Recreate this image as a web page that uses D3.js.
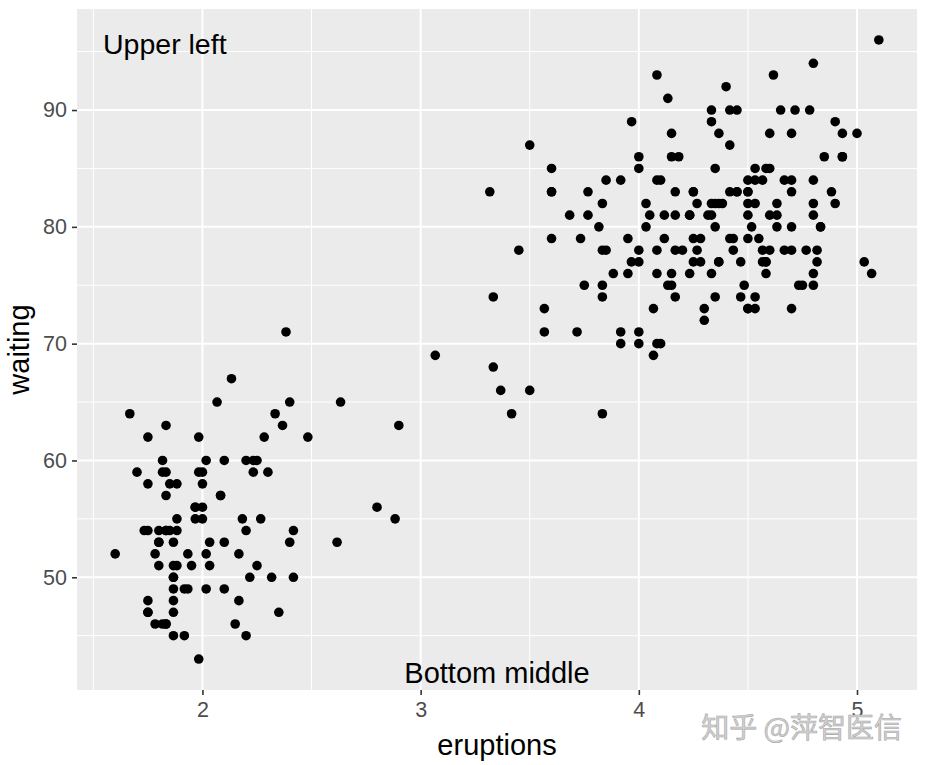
<!DOCTYPE html>
<html><head><meta charset="utf-8">
<script src="https://cdn.jsdelivr.net/npm/d3@7"></script>
<style>body{margin:0;background:#fff}svg{display:block}</style>
</head><body>
<script>
const eruptions = [3.600,1.800,3.333,2.283,4.533,2.883,4.700,3.600,1.950,4.350,1.833,3.917,4.200,1.750,4.700,2.167,1.750,4.800,1.600,4.250,1.800,1.750,3.450,3.067,4.533,3.600,1.967,4.083,3.850,4.433,4.300,4.467,3.367,4.033,3.833,2.017,1.867,4.833,1.833,4.783,4.350,1.883,4.567,1.750,4.533,3.317,3.833,2.100,4.633,2.000,4.800,4.716,1.833,4.833,1.733,4.883,3.717,1.667,4.567,4.317,2.233,4.500,1.750,4.800,1.817,4.400,4.167,4.700,2.067,4.700,4.033,1.967,4.500,4.000,1.983,5.067,2.017,4.567,3.883,3.600,4.133,4.333,4.100,2.633,4.067,4.933,3.950,4.517,2.167,4.000,2.200,4.333,1.867,4.817,1.833,4.300,4.667,3.750,1.867,4.900,2.483,4.367,2.100,4.500,4.050,1.867,4.700,1.783,4.850,3.683,4.733,2.300,4.900,4.417,1.700,4.633,2.317,4.600,1.817,4.417,2.617,4.067,4.250,1.967,4.600,3.767,1.917,4.500,2.267,4.650,1.867,4.167,2.800,4.333,1.833,4.383,1.883,4.933,2.033,3.733,4.233,2.233,4.533,4.817,4.333,1.983,4.633,2.017,5.100,1.800,5.033,4.000,2.400,4.600,3.567,4.000,4.500,4.083,1.800,3.967,2.200,4.150,2.000,3.833,3.500,4.583,2.367,5.000,1.933,4.617,1.917,2.083,4.583,3.333,4.167,4.333,4.500,2.417,4.000,4.167,1.883,4.583,4.250,3.767,2.033,4.433,4.083,1.833,4.417,2.183,4.800,1.833,4.800,4.100,3.966,4.233,3.500,4.366,2.250,4.667,2.100,4.350,4.133,1.867,4.600,1.783,4.367,3.850,1.933,4.500,2.383,4.700,1.867,3.833,3.417,4.233,2.400,4.800,2.000,4.150,1.867,4.267,1.750,4.483,4.000,4.117,4.083,4.267,3.917,4.550,4.083,2.417,4.183,2.217,4.450,1.883,1.850,4.283,3.950,2.333,4.150,2.350,4.933,2.900,4.583,3.833,2.083,4.367,2.133,4.350,2.200,4.450,3.567,4.500,4.150,3.817,3.917,4.450,2.000,4.283,4.767,4.533,1.850,4.250,1.983,2.250,4.750,4.117,2.150,4.417,1.817,4.467];
const waiting = [79,54,74,62,85,55,88,85,51,85,54,84,78,47,83,52,62,84,52,79,51,47,78,69,74,83,55,76,78,79,73,77,66,80,74,52,48,80,59,90,80,58,84,58,73,83,64,53,82,59,75,90,54,80,54,83,71,64,77,81,59,84,48,82,60,92,78,78,65,73,82,56,79,71,62,76,60,78,76,83,75,82,70,65,73,88,76,80,48,86,60,90,50,78,63,72,84,75,51,82,62,88,49,83,81,47,84,52,86,81,75,59,89,79,59,81,50,85,59,87,53,69,77,56,88,81,45,82,55,90,45,83,56,89,46,82,51,86,53,79,81,60,82,77,76,59,80,49,96,53,77,77,65,81,71,70,81,93,53,89,45,86,58,78,66,76,63,88,52,93,49,57,77,68,81,81,73,50,85,74,55,77,83,83,51,78,84,46,83,55,81,57,76,84,77,81,87,77,51,78,60,82,91,53,78,46,77,84,49,83,71,80,49,75,64,76,53,94,55,76,50,82,54,75,78,79,78,78,70,79,70,54,86,50,90,54,54,77,79,64,75,47,86,63,85,82,57,82,67,74,54,83,73,73,88,80,71,83,56,79,78,84,58,83,43,60,75,81,46,90,46,74];
const xTicks = [2,3,4,5];
const yTicks = [50,60,70,80,90];
const xMinor = [1.5,2.5,3.5,4.5];
const yMinor = [45,55,65,75,85,95];
const annotations = [{text:"Upper left", pos:"ul"},{text:"Bottom middle", pos:"bm"}];

const W=926,H=765;
const P={l:77,r:917,t:9,b:690};
const svg=d3.select("body").append("svg").attr("width",W).attr("height",H);
const x=d3.scaleLinear().domain([1.425,5.275]).range([P.l,P.r]);
const y=d3.scaleLinear().domain([40.35,98.65]).range([P.b,P.t]);
const font="Liberation Sans, Arial, sans-serif";

svg.append("rect").attr("x",P.l).attr("y",P.t).attr("width",P.r-P.l).attr("height",P.b-P.t).attr("fill","#ebebeb");
const g=svg.append("g");
g.selectAll(".xm").data(xMinor).join("line").attr("x1",d=>x(d)).attr("x2",d=>x(d)).attr("y1",P.t).attr("y2",P.b).attr("stroke","#fff").attr("stroke-width",1);
g.selectAll(".ym").data(yMinor).join("line").attr("y1",d=>y(d)).attr("y2",d=>y(d)).attr("x1",P.l).attr("x2",P.r).attr("stroke","#fff").attr("stroke-width",1);
g.selectAll(".xM").data(xTicks).join("line").attr("x1",d=>x(d)).attr("x2",d=>x(d)).attr("y1",P.t).attr("y2",P.b).attr("stroke","#fff").attr("stroke-width",2);
g.selectAll(".yM").data(yTicks).join("line").attr("y1",d=>y(d)).attr("y2",d=>y(d)).attr("x1",P.l).attr("x2",P.r).attr("stroke","#fff").attr("stroke-width",2);

// axes
const xa=svg.append("g").attr("transform",`translate(0,${P.b})`).call(d3.axisBottom(x).tickValues(xTicks).tickSize(5).tickPadding(7).tickFormat(d3.format("d")));
const ya=svg.append("g").attr("transform",`translate(${P.l},0)`).call(d3.axisLeft(y).tickValues(yTicks).tickSize(5).tickPadding(5).tickFormat(d3.format("d")));
[xa,ya].forEach(a=>{a.select(".domain").remove();a.selectAll(".tick line").attr("stroke","#333").attr("stroke-width",1.6);a.selectAll(".tick text").attr("fill","#4d4d4d").attr("font-size",21.5).attr("font-family",font);});

// points
svg.append("g").selectAll("circle").data(eruptions.map((e,i)=>[e,waiting[i]])).join("circle")
 .attr("cx",d=>x(d[0])).attr("cy",d=>y(d[1])).attr("r",4.8).attr("fill","#000");

// annotations
svg.append("text").attr("x",103).attr("y",54).attr("font-size",28.5).attr("font-family",font).attr("fill","#000").text(annotations[0].text);
svg.append("text").attr("x",(P.l+P.r)/2).attr("y",683).attr("text-anchor","middle").attr("font-size",29).attr("font-family",font).attr("fill","#000").text(annotations[1].text);

// axis titles
svg.append("text").attr("x",(P.l+P.r)/2).attr("y",755).attr("text-anchor","middle").attr("font-size",29).attr("font-family",font).text("eruptions");
svg.append("text").attr("transform",`translate(29,${(P.t+P.b)/2}) rotate(-90)`).attr("text-anchor","middle").attr("font-size",29).attr("font-family",font).text("waiting");

// watermark
svg.append("text").attr("x",902).attr("y",738).attr("text-anchor","end").attr("font-size",28).attr("font-family","Noto Sans CJK SC, sans-serif")
 .attr("fill","#d2d2d2").attr("stroke","#a8a8a8").attr("stroke-width",0.6).text("知乎 @萍智医信");
</script>
</body></html>
